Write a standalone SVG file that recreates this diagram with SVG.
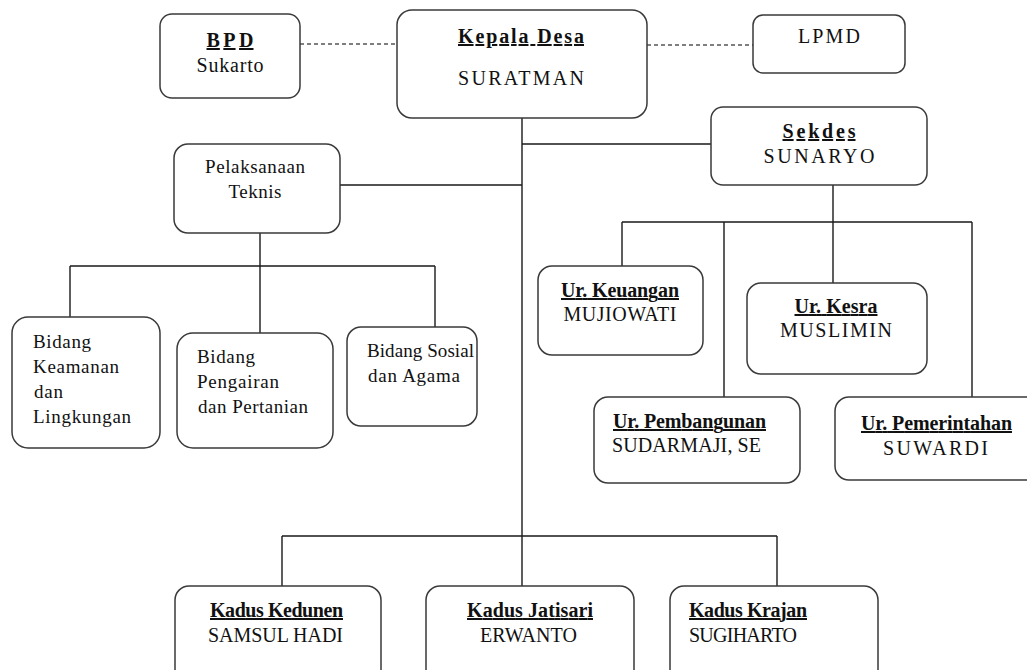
<svg xmlns="http://www.w3.org/2000/svg" width="1027" height="670" viewBox="0 0 1027 670">
<style>
  .box{fill:#fff;stroke:#3a3a3a;stroke-width:1.5}
  .ln{fill:none;stroke:#1a1a1a;stroke-width:1.4}
  .dash{fill:none;stroke:#555;stroke-width:1.4;stroke-dasharray:4 3}
  text{font-family:"Liberation Serif","Times New Roman",serif;fill:#111}
  .h{font-weight:bold;font-size:20px;text-decoration:underline}
  .n{font-size:20px}
  .s{font-size:19px}
  .m{text-anchor:middle}
</style>
<rect width="1027" height="670" fill="#fff"/>
<g id="connectors">
  <path class="dash" d="M300 44 H397 M647 45 H753"/>
  <path class="ln" d="M522 118 V586 M522 144 H711 M340 185 H522 M260 233 V333 M70 266 H435 M70 266 V317 M435 266 V327 M833 185 V283 M622 222 H972 M622 222 V266 M724 222 V397 M972 222 V397 M282 536 H777 M282 536 V586 M777 536 V586"/>
</g>
<g id="bpd">
  <rect class="box" x="160" y="14" width="140" height="84" rx="12"/>
  <text class="h m" x="230" y="47" textLength="47">BPD</text>
  <text class="n m" x="230" y="72" textLength="67">Sukarto</text>
</g>
<g id="kepala-desa">
  <rect class="box" x="397" y="10" width="250" height="108" rx="15"/>
  <text class="h m" x="521" y="43" textLength="126">Kepala Desa</text>
  <text class="n m" x="521" y="85" textLength="126">SURATMAN</text>
</g>
<g id="lpmd">
  <rect class="box" x="753" y="15" width="152" height="58" rx="10"/>
  <text class="n m" x="829" y="43" textLength="62">LPMD</text>
</g>
<g id="sekdes">
  <rect class="box" x="711" y="107" width="216" height="78" rx="12"/>
  <text class="h m" x="819" y="138" textLength="73">Sekdes</text>
  <text class="n m" x="819" y="163" textLength="111">SUNARYO</text>
</g>
<g id="pelaksanaan-teknis">
  <rect class="box" x="174" y="144" width="166" height="89" rx="14"/>
  <text class="s m" x="255" y="173" textLength="100">Pelaksanaan</text>
  <text class="s m" x="255" y="198" textLength="53">Teknis</text>
</g>
<g id="bidang-keamanan">
  <rect class="box" x="12" y="317" width="148" height="131" rx="16"/>
  <text class="s" x="33" y="348" textLength="58">Bidang</text>
  <text class="s" x="33" y="373" textLength="86">Keamanan</text>
  <text class="s" x="34" y="398" textLength="29">dan</text>
  <text class="s" x="33" y="423" textLength="98">Lingkungan</text>
</g>
<g id="bidang-pengairan">
  <rect class="box" x="177" y="333" width="156" height="115" rx="16"/>
  <text class="s" x="197" y="363" textLength="58">Bidang</text>
  <text class="s" x="197" y="388" textLength="82">Pengairan</text>
  <text class="s" x="198" y="413" textLength="110">dan Pertanian</text>
</g>
<g id="bidang-sosial">
  <rect class="box" x="347" y="327" width="130" height="99" rx="14"/>
  <text class="s" x="367" y="357" textLength="107">Bidang Sosial</text>
  <text class="s" x="368" y="382" textLength="92">dan Agama</text>
</g>
<g id="ur-keuangan">
  <rect class="box" x="538" y="266" width="165" height="89" rx="14"/>
  <text class="h m" x="620" y="297" textLength="118">Ur. Keuangan</text>
  <text class="n m" x="620" y="321" textLength="113">MUJIOWATI</text>
</g>
<g id="ur-kesra">
  <rect class="box" x="747" y="283" width="180" height="91" rx="14"/>
  <text class="h m" x="836" y="313" textLength="83">Ur. Kesra</text>
  <text class="n m" x="836" y="337" textLength="112">MUSLIMIN</text>
</g>
<g id="ur-pembangunan">
  <rect class="box" x="594" y="397" width="206" height="86" rx="14"/>
  <text class="h" x="613" y="428" textLength="153">Ur. Pembangunan</text>
  <text class="n" x="612" y="452" textLength="149">SUDARMAJI, SE</text>
</g>
<g id="ur-pemerintahan">
  <rect class="box" x="835" y="397" width="206" height="83" rx="14"/>
  <text class="h" x="861" y="430" textLength="151">Ur. Pemerintahan</text>
  <text class="n" x="883" y="455" textLength="105">SUWARDI</text>
</g>
<g id="kadus-kedunen">
  <rect class="box" x="175" y="586" width="206" height="100" rx="14"/>
  <text class="h" x="210" y="617" textLength="133">Kadus Kedunen</text>
  <text class="n" x="208" y="642" textLength="135">SAMSUL HADI</text>
</g>
<g id="kadus-jatisari">
  <rect class="box" x="426" y="586" width="208" height="100" rx="14"/>
  <text class="h" x="467" y="617" textLength="126">Kadus Jatisari</text>
  <text class="n" x="480" y="642" textLength="97">ERWANTO</text>
</g>
<g id="kadus-krajan">
  <rect class="box" x="670" y="586" width="208" height="100" rx="14"/>
  <text class="h" x="689" y="617" textLength="118">Kadus Krajan</text>
  <text class="n" x="689" y="642" textLength="108">SUGIHARTO</text>
</g>
</svg>
